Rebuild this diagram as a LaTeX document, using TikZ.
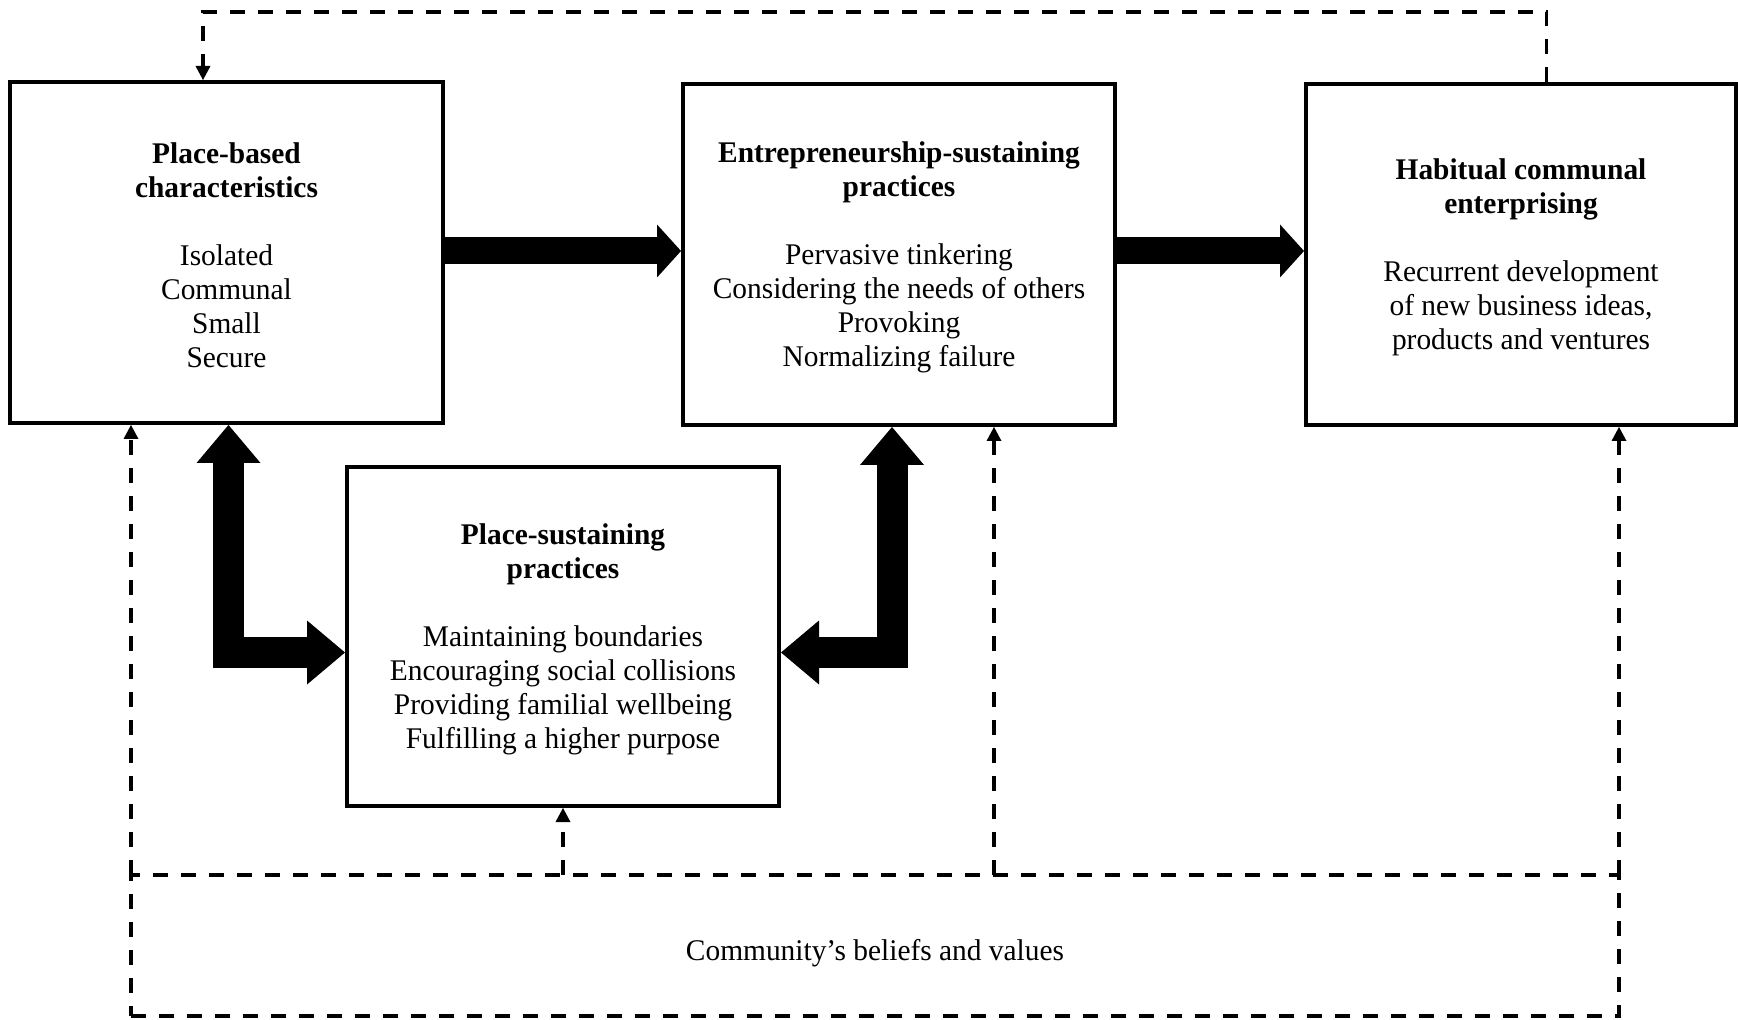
\documentclass[tikz,border=0pt]{standalone}
\usepackage{fontspec}
\setmainfont{Liberation Serif}[FakeStretch=0.98]
\usetikzlibrary{arrows.meta}
\newcommand{\topstrut}{\rule{0pt}{13.3pt}}
\begin{document}
\begin{tikzpicture}[x=0.5pt,y=-0.5pt,
  box/.style={draw, line width=2pt, align=center, font=\fontsize{15pt}{17pt}\selectfont, inner sep=0pt},
  dsh/.style={line width=1.75pt, dash pattern=on 7.5pt off 6.5pt},
  tip/.style={-{Triangle[width=7.5pt,length=7pt,line width=0pt]}},
  big/.style={line width=13.5pt, -{Triangle[width=26.5pt,length=12pt,line width=0pt]}},
  elbow/.style={line width=15.5pt, line join=miter, {Triangle[width=32pt,length=19pt,line width=0pt]}-{Triangle[width=32pt,length=19pt,line width=0pt]}}]
\useasboundingbox[fill=white] (0,0) rectangle (1738,1020);
\node[box, minimum width=216.5pt, minimum height=170.5pt] (b1) at (226.5,252.5)
  {\topstrut\textbf{Place-based}\\\textbf{characteristics}\\[17pt]Isolated\\Communal\\Small\\Secure};
\node[box, minimum width=216pt, minimum height=170.5pt] (b2) at (899,254.5)
  {\topstrut\textbf{Entrepreneurship-sustaining}\\\textbf{practices}\\[17pt]Pervasive tinkering\\Considering the needs of others\\Provoking\\Normalizing failure};
\node[box, minimum width=215pt, minimum height=170.5pt] (b3) at (1521,254.5)
  {\topstrut\textbf{Habitual communal}\\\textbf{enterprising}\\[17pt]Recurrent development\\of new business ideas,\\products and ventures};
\node[box, minimum width=216pt, minimum height=169.5pt] (b4) at (563,636.5)
  {\topstrut\textbf{Place-sustaining}\\\textbf{practices}\\[17pt]Maintaining boundaries\\Encouraging social collisions\\Providing familial wellbeing\\Fulfilling a higher purpose};
\node[draw, dsh, outer sep=0pt, minimum width=744pt, minimum height=70.5pt, text height=14.5pt, text depth=0pt, font=\fontsize{15pt}{17pt}\selectfont] (cv) at (875,945.5)
  {Community’s beliefs and values};
% dashed connectors
\draw[dsh,tip] (cv.north west) -- (cv.north west |- b1.south);
\draw[dsh,tip] (cv.north east) -- (cv.north east |- b3.south);
\draw[dsh,tip] (cv.north -| b4.south) -- (b4.south);
\coordinate (p2) at ([xshift=47.5pt]b2.south);
\draw[dsh,tip] (cv.north -| p2) -- (p2);
\coordinate (p3) at ([xshift=12.75pt]b3.north);
\coordinate (p1) at ([xshift=-11.75pt]b1.north);
\coordinate (top) at (0,12);
\draw[dsh,tip] (p3) -- (p3 |- top) -- (p1 |- top) -- (p1);
% thick arrows
\draw[big] ([yshift=0.75pt]b1.east) -- ([yshift=0.75pt]b1.east -| b2.west);
\draw[big] ([yshift=1.75pt]b2.east) -- ([yshift=1.75pt]b2.east -| b3.west);
\draw[elbow] ([xshift=1pt]b1.south) |- ([yshift=-8pt]b4.west);
\draw[elbow] ([xshift=-3.5pt]b2.south) |- ([yshift=-8pt]b4.east);
\end{tikzpicture}
\end{document}
